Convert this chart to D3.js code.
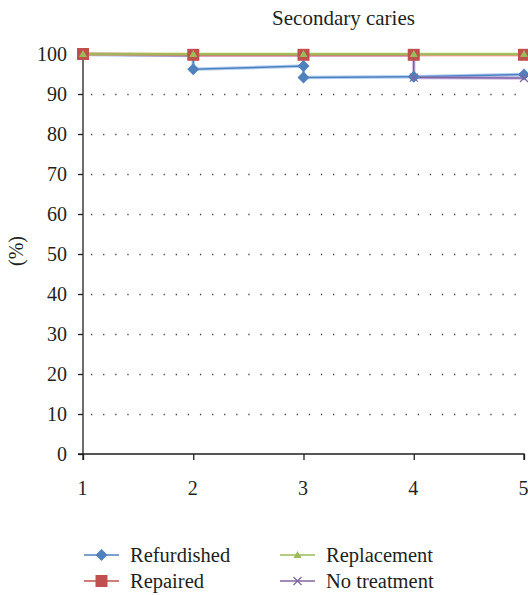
<!DOCTYPE html>
<html><head><meta charset="utf-8">
<script src="https://cdn.jsdelivr.net/npm/d3@7"></script>
<style>body{margin:0;background:#fff}svg{display:block}text{font-family:"Liberation Serif","Times New Roman","DejaVu Serif",serif;fill:#231f20}</style>
</head><body><svg id="c" width="528" height="595"></svg>
<script>
const title = "Secondary caries";
const yLabel = "(%)";
const xTicks = [1, 2, 3, 4, 5];
const yTicks = [0, 10, 20, 30, 40, 50, 60, 70, 80, 90, 100];
const seriesNames = ["Refurdished", "Repaired", "Replacement", "No treatment"];
const refurdishedX = [1, 2, 2, 3, 3, 4, 5];
const refurdishedY = [99.9, 99.6, 96.2, 97.0, 94.1, 94.3, 94.9];
const repairedX = [1, 2, 3, 4, 5];
const repairedY = [100, 99.8, 99.8, 99.8, 99.8];
const replacementX = [1, 2, 3, 4, 5];
const replacementY = [100, 100, 100, 100, 100];
const noTreatmentX = [1, 2, 3, 4, 4, 5];
const noTreatmentY = [100, 99.7, 99.7, 99.7, 94.1, 94.0];

const colors = ["#4f81bd", "#c0504d", "#9bbb59", "#8064a2"];
const markers = ["diamond", "square", "triangle", "x"];
const series = [
  {name: seriesNames[0], xs: refurdishedX, ys: refurdishedY},
  {name: seriesNames[1], xs: repairedX, ys: repairedY},
  {name: seriesNames[2], xs: replacementX, ys: replacementY},
  {name: seriesNames[3], xs: noTreatmentX, ys: noTreatmentY}
];

const FONT = '"Liberation Serif","Times New Roman","DejaVu Serif",serif';
const svg = d3.select("#c");
const x = d3.scaleLinear().domain([1, 5]).range([83, 524]);
const y = d3.scaleLinear().domain([0, 100]).range([454, 54]);

svg.append("text").attr("x", 343.5).attr("y", 25).attr("text-anchor", "middle")
  .style("font-family", FONT).style("font-size", "21px").text(title);

// gridlines
svg.append("g").selectAll("line").data(yTicks.filter(d => d > 0 && d < 100)).join("line")
  .attr("x1", x(1) + 8).attr("x2", x(5)).attr("y1", d => y(d) + 0.5).attr("y2", d => y(d) + 0.5)
  .attr("stroke", "#444").attr("stroke-width", 1.3).attr("stroke-dasharray", "1.3,10.8");

// axes
const yAxis = d3.axisLeft(y).tickValues(yTicks).tickSize(5).tickPadding(11).tickFormat(d3.format("d"));
const gy = svg.append("g").attr("transform", `translate(${x(1)},0)`).call(yAxis);
const xAxis = d3.axisBottom(x).tickValues(xTicks).tickSize(6).tickPadding(21).tickFormat(d3.format("d"));
const gx = svg.append("g").attr("transform", `translate(0,${y(0)})`).call(xAxis);
[gx, gy].forEach(g => {
  g.attr("font-family", null).attr("font-size", null);
  g.select(".domain").attr("stroke", "#231f20").attr("stroke-width", 1.3);
  g.selectAll(".tick line").attr("stroke", "#231f20").attr("stroke-width", 1.3);
  g.selectAll("text").style("font-size", "20px").attr("fill", "#231f20").style("font-family", FONT);
});
gx.selectAll(".tick text").attr("dx", "-1");
gx.select(".domain").attr("d", `M${x(1)},6V0H${x(5)}V6`);
gy.select(".domain").attr("d", `M-5,${y(100)}H0V${y(0)}H-5`);

svg.append("text").attr("transform", `translate(23,${y(50) - 3}) rotate(-90)`)
  .attr("text-anchor", "middle").style("font-family", FONT).style("font-size", "20px").text(yLabel);

function drawMarker(g, type, cx, cy, color) {
  if (type === "diamond") {
    g.append("path").attr("d", `M${cx},${cy-6}L${cx+6},${cy}L${cx},${cy+6}L${cx-6},${cy}Z`).attr("fill", color);
  } else if (type === "square") {
    g.append("rect").attr("x", cx - 6).attr("y", cy - 6).attr("width", 12).attr("height", 12).attr("fill", color);
  } else if (type === "triangle") {
    g.append("path").attr("d", `M${cx},${cy-4}L${cx+4},${cy+3}L${cx-4},${cy+3}Z`).attr("fill", color);
  } else {
    g.append("path").attr("d", `M${cx-4},${cy-4}L${cx+4},${cy+4}M${cx-4},${cy+4}L${cx+4},${cy-4}`)
      .attr("stroke", color).attr("stroke-width", 1.3).attr("fill", "none");
  }
}

const line = d3.line().x(d => x(d[0])).y(d => y(d[1]));
const drawOrder = [0, 3, 1, 2];
drawOrder.forEach(i => {
  const s = series[i];
  const pts = s.xs.map((v, k) => [v, s.ys[k]]);
  const g = svg.append("g");
  g.append("path").attr("d", line(pts)).attr("fill", "none").attr("stroke", d3.color(colors[i]).brighter(0.6)).attr("stroke-opacity", 0.5).attr("stroke-width", 3.5);
  g.append("path").attr("d", line(pts)).attr("fill", "none").attr("stroke", colors[i]).attr("stroke-width", 1.5);
});
drawOrder.forEach(i => {
  const s = series[i];
  const g = svg.append("g");
  s.xs.forEach((v, k) => drawMarker(g, markers[i], x(v), y(s.ys[k]), colors[i]));
});

// legend
const legendPos = [[84, 555], [84, 581], [280, 555], [280, 581]];
series.forEach((s, i) => {
  const [lx, ly] = legendPos[i];
  const g = svg.append("g");
  g.append("line").attr("x1", lx).attr("x2", lx + 35).attr("y1", ly).attr("y2", ly).attr("stroke", colors[i]).attr("stroke-width", 1.5);
  drawMarker(g, markers[i], lx + 17.5, ly, colors[i]);
  g.append("text").attr("x", lx + 46).attr("y", ly + 7).style("font-family", FONT).style("font-size", "20.5px").text(s.name);
});
</script></body></html>
